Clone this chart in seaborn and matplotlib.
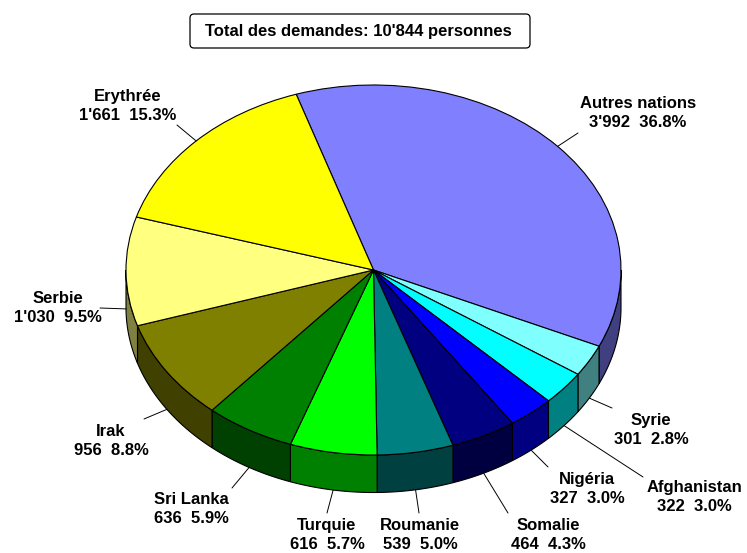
import numpy as np
import matplotlib
matplotlib.use("Agg")
import matplotlib.pyplot as plt
from matplotlib.patches import Polygon, FancyBboxPatch
from matplotlib.transforms import Affine2D
import seaborn as sns

# ---- data ----
countries = ["Autres nations", "Syrie", "Afghanistan", "Nigéria", "Somalie",
             "Roumanie", "Turquie", "Sri Lanka", "Irak", "Serbie", "Erythrée"]
requests = [3992, 301, 322, 327, 464, 539, 616, 636, 956, 1030, 1661]
top_colors = ["#8080FF", "#80FFFF", "#00FFFF", "#0000FF", "#000080",
              "#008080", "#00FF00", "#008000", "#808000", "#FFFF80", "#FFFF00"]
side_colors = ["#404080", "#408080", "#008080", "#000080", "#000040",
               "#004040", "#008000", "#004000", "#404000", "#808040", "#808000"]
title = "Total des demandes: 10'844 personnes"

# ---- layout (pixels) ----
W, H = 747, 553
CX, CY, RX, RY, DEPTH = 373.5, 270.0, 247.5, 185.0, 37.5
START = 108.2
label_pos = [(638, 113), (651, 430), (694, 497), (587, 489), (548, 535),
             (420, 535), (327, 535), (191, 509), (111, 441), (58, 308), (128, 106)]
leader_out = [(578, 133), (612, 408), (643, 477), (548, 467), (508, 513),
              (419, 513), (327, 513), (232, 488), (144, 419), (100, 308), (177, 125)]

sns.set_style("white")
plt.rcParams["font.family"] = ["Liberation Sans", "DejaVu Sans"]
plt.rcParams["text.color"] = "black"

fig = plt.figure(figsize=(W / 100, H / 100), dpi=100)
ax = fig.add_axes([0, 0, 1, 1])

vals = np.array(requests, dtype=float)
total = vals.sum()
frac = vals / total
sweep = frac * 360.0
a_start = START - np.concatenate([[0], np.cumsum(sweep)[:-1]])
a_end = a_start - sweep

def ell(theta_deg, dy=0.0):
    t = np.radians(theta_deg)
    return CX + RX * np.cos(t), CY - RY * np.sin(t) + dy

# side walls (front half: angles between -180 and 0)
for i in range(len(vals)):
    hi = min(a_start[i], 0.0)
    lo = max(a_end[i], -180.0)
    if hi <= lo:
        continue
    th = np.linspace(hi, lo, 80)
    xt, yt = ell(th)
    xb, yb = ell(th[::-1], DEPTH)
    pts = np.column_stack([np.concatenate([xt, xb]), np.concatenate([yt, yb])])
    ax.add_patch(Polygon(pts, closed=True, facecolor=side_colors[i],
                         edgecolor="black", linewidth=0.8, zorder=2))

# top faces via pie
wedges, _ = ax.pie(vals, colors=top_colors, startangle=START, counterclock=False,
                   wedgeprops=dict(edgecolor="black", linewidth=0.8))
tr = Affine2D().scale(RX, -RY).translate(CX, CY) + ax.transData
for w in wedges:
    w.set_transform(tr)
    w.set_zorder(3)

# labels and leader lines
for i in range(len(vals)):
    mid = (a_start[i] + a_end[i]) / 2
    dy = DEPTH if np.sin(np.radians(mid)) < 0 else 0.0
    x0, y0 = ell(mid, dy)
    x1, y1 = leader_out[i]
    ax.plot([x0, x1], [y0, y1], color="black", linewidth=0.7, zorder=4)
    txt = f"{countries[i]}\n{requests[i]:,}".replace(",", "'") + f"  {frac[i]*100:.1f}%"
    ax.text(label_pos[i][0], label_pos[i][1], txt, ha="center", va="center",
            ma="center", fontsize=12, fontweight="bold", linespacing=1.27,
            color="black", zorder=5)

# title box
ax.add_patch(FancyBboxPatch((190, 14), 340, 34, boxstyle="round,pad=0,rounding_size=4",
                            facecolor="white", edgecolor="black", linewidth=0.9, zorder=5))
ax.text(358, 31.5, title, ha="center", va="center", fontsize=12, fontweight="bold",
        color="black", zorder=6)

ax.set_xlim(0, W)
ax.set_ylim(H, 0)
ax.set_aspect("auto")
ax.axis("off")
fig.savefig("out.png", dpi=100)
